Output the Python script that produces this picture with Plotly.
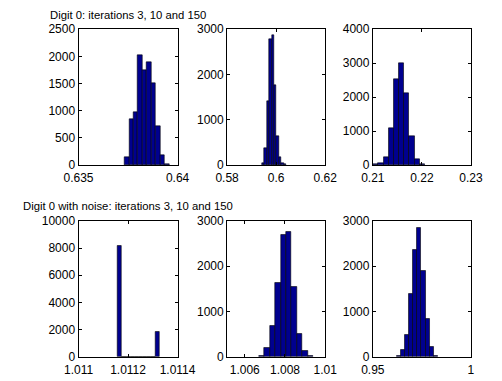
import plotly.graph_objects as go

# ---------------- data ----------------
# Row 1: Digit 0, iterations 3, 10 and 150
d0_it3_centers = [0.6374375, 0.6376625, 0.6378875, 0.6381125, 0.6383375,
                  0.6385625, 0.6387875, 0.6390125, 0.6392375, 0.6394625]
d0_it3_counts = [150, 850, 970, 2030, 1750, 1890, 1510, 720, 190, 20]
d0_it3_binw = 0.000225

d0_it10_centers = [0.59467, 0.59567, 0.59667, 0.59767, 0.59867,
                   0.59967, 0.60067, 0.60167, 0.60267, 0.60367]
d0_it10_counts = [40, 370, 1410, 2780, 2870, 1760, 630, 170, 40, 10]
d0_it10_binw = 0.001

d0_it150_centers = [0.210585, 0.211635, 0.212685, 0.213735, 0.214785,
                    0.215835, 0.216885, 0.217935, 0.218985, 0.220035]
d0_it150_counts = [15, 40, 240, 1090, 2530, 3010, 2110, 835, 165, 20]
d0_it150_binw = 0.00105

# Row 2: Digit 0 with noise, iterations 3, 10 and 150
dn_it3_centers = [1.0111668, 1.0111836, 1.0112004, 1.0112171, 1.0112339,
                  1.0112507, 1.0112674, 1.0112842, 1.0113010, 1.0113177]
dn_it3_counts = [8180, 0, 0, 0, 0, 0, 0, 0, 0, 1820]
dn_it3_binw = 0.0000168

dn_it10_centers = [1.0068335, 1.0071045, 1.0073755, 1.0076465, 1.0079175,
                   1.0081885, 1.0084595, 1.0087305, 1.0090015, 1.0092725]
dn_it10_counts = [25, 200, 685, 1640, 2700, 2765, 1540, 495, 120, 20]
dn_it10_binw = 0.000271

dn_it150_centers = [0.963105, 0.965215, 0.967325, 0.969435, 0.971545,
                    0.973655, 0.975765, 0.977875, 0.979985, 0.982095]
dn_it150_counts = [20, 140, 485, 1390, 2370, 2835, 1905, 845, 225, 25]
dn_it150_binw = 0.00211

# axis limits and tick labels
x_ranges = [[0.635, 0.64], [0.58, 0.62], [0.21, 0.23],
            [1.011, 1.0114], [1.00512, 1.01], [0.95, 1.0]]
x_tickvals = [[0.635, 0.64], [0.58, 0.6, 0.62], [0.21, 0.22, 0.23],
              [1.011, 1.0112, 1.0114], [1.006, 1.008, 1.01], [0.95, 1.0]]
x_ticktext = [["0.635", "0.64"], ["0.58", "0.6", "0.62"], ["0.21", "0.22", "0.23"],
              ["1.011", "1.0112", "1.0114"], ["1.006", "1.008", "1.01"], ["0.95", "1"]]
y_ranges = [[0, 2500], [0, 3000], [0, 4000], [0, 10000], [0, 3000], [0, 3000]]
y_tickvals = [[0, 500, 1000, 1500, 2000, 2500], [0, 1000, 2000, 3000],
              [0, 1000, 2000, 3000, 4000], [0, 2000, 4000, 6000, 8000, 10000],
              [0, 1000, 2000, 3000], [0, 1000, 2000, 3000]]

titles = ["Digit 0: iterations 3, 10 and 150",
          "Digit 0 with noise: iterations 3, 10 and 150"]

series = [
    (d0_it3_centers, d0_it3_counts, d0_it3_binw),
    (d0_it10_centers, d0_it10_counts, d0_it10_binw),
    (d0_it150_centers, d0_it150_counts, d0_it150_binw),
    (dn_it3_centers, dn_it3_counts, dn_it3_binw),
    (dn_it10_centers, dn_it10_counts, dn_it10_binw),
    (dn_it150_centers, dn_it150_counts, dn_it150_binw),
]

# ---------------- layout ----------------
W, H = 502, 381
col_px = [(68, 174), (227, 332), (383, 488)]
row_px = [(23, 164), (222, 363)]

FONT = "Liberation Sans, Arial, Helvetica, sans-serif"
BAR_FILL = "#00008f"

fig = go.Figure()
layout = dict(
    width=W, height=H,
    margin=dict(l=0, r=0, t=0, b=0),
    paper_bgcolor="white", plot_bgcolor="white",
    showlegend=False, bargap=0,
    font=dict(family=FONT, size=11, color="black"),
)

for i, (cx, cy, bw) in enumerate(series):
    r, c = divmod(i, 3)
    n = i + 1
    xa = "x" if n == 1 else f"x{n}"
    ya = "y" if n == 1 else f"y{n}"
    fig.add_trace(go.Bar(
        x=cx, y=cy, width=bw, xaxis=xa, yaxis=ya,
        marker=dict(color=BAR_FILL, line=dict(color="black", width=0.6)),
        hoverinfo="x+y",
    ))
    x0, x1 = col_px[c]
    y0, y1 = row_px[r]
    common = dict(
        showgrid=False, zeroline=False, showline=True, linecolor="black",
        linewidth=1, mirror="ticks", ticks="inside", ticklen=3,
        tickcolor="black", tickwidth=1,
        tickfont=dict(family=FONT, size=12, color="black"),
    )
    layout["xaxis" if n == 1 else f"xaxis{n}"] = dict(
        domain=[x0 / W, x1 / W], anchor=ya, range=x_ranges[i],
        tickmode="array", tickvals=x_tickvals[i], ticktext=x_ticktext[i],
        ticklabelstandoff=2,
        **common)
    layout["yaxis" if n == 1 else f"yaxis{n}"] = dict(
        domain=[1 - y1 / H, 1 - y0 / H], anchor=xa, range=y_ranges[i],
        tickmode="array", tickvals=y_tickvals[i],
        ticktext=[str(v) for v in y_tickvals[i]],
        **common)

annotations = []
for r, t in enumerate(titles):
    ycen = [8, 207][r]
    annotations.append(dict(
        text=t, xref="paper", yref="paper",
        x=((col_px[0][0] + col_px[0][1]) / 2) / W, y=1 - ycen / H,
        xanchor="center", yanchor="middle", showarrow=False,
        font=dict(family=FONT, size=11.3, color="black"),
    ))
layout["annotations"] = annotations

fig.update_layout(**layout)
fig.write_html("out.html", config={"displayModeBar": False},
               post_script="document.body.style.margin='0px';document.body.style.overflow='hidden';")
